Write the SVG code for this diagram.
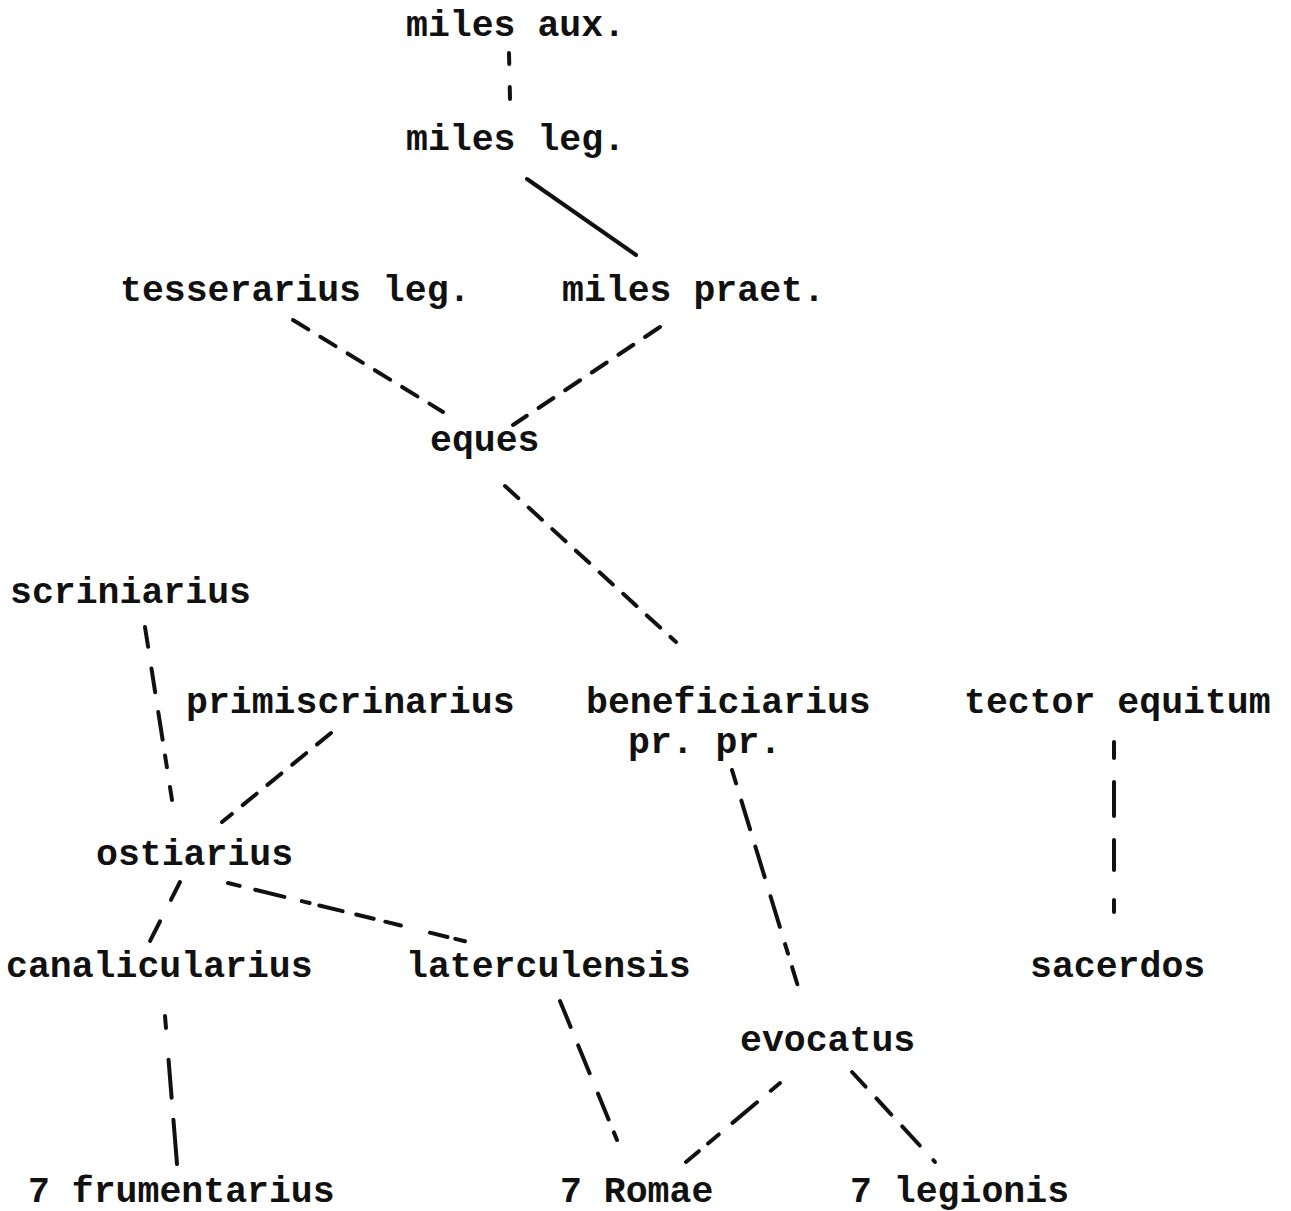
<svg xmlns="http://www.w3.org/2000/svg" width="1291" height="1211" viewBox="0 0 1291 1211">
<style>
  .t { font-family: "Liberation Mono", "Courier New", monospace; font-size: 36.5px; font-weight: bold; fill: #111; }
  .c { stroke: #111; stroke-width: 4; fill: none; stroke-linecap: round; }
  .d { stroke-dasharray: 18 14; }
</style>
<rect width="1291" height="1211" fill="#ffffff"/>
<g id="connectors">
  <line class="c" x1="509" y1="53" x2="510" y2="99" style="stroke-dasharray:11 23 14"/>
  <line class="c" x1="527" y1="179" x2="636" y2="255"/>
  <line class="c d" x1="293" y1="320" x2="443" y2="412"/>
  <line class="c d" x1="660" y1="327" x2="513" y2="425"/>
  <line class="c d" x1="505" y1="486" x2="676" y2="642"/>
  <line class="c d" x1="145" y1="627" x2="172" y2="800" style="stroke-dasharray:20 22 24 20 28 16 12"/>
  <line class="c d" x1="331" y1="733" x2="222" y2="822"/>
  <line class="c d" x1="732" y1="770" x2="800" y2="993" style="stroke-dasharray:14 18 30 18 32 20 32 18 10"/>
  <line class="c" x1="1114" y1="742" x2="1114" y2="924" style="stroke-dasharray:16 24 34 24 30 30 12"/>
  <line class="c d" x1="180" y1="882" x2="148" y2="945" style="stroke-dasharray:20 24 22"/>
  <line class="c d" x1="228" y1="883" x2="468" y2="942" style="stroke-dasharray:12 16 30 18 8 10 24 14 18"/>
  <line class="c" x1="165" y1="1016" x2="177" y2="1164" style="stroke-dasharray:12 32 38 22 46"/>
  <line class="c d" x1="560" y1="1001" x2="617" y2="1140" style="stroke-dasharray:28 20 30 22 28 14 20"/>
  <line class="c d" x1="780" y1="1083" x2="686" y2="1162" style="stroke-dasharray:12 18 32 18 14"/>
  <line class="c d" x1="852" y1="1072" x2="935" y2="1162" style="stroke-dasharray:20 16 22 16 26"/>
</g>
<g id="n-miles-aux"><text class="t" x="406" y="36">miles aux.</text></g>
<g id="n-miles-leg"><text class="t" x="406" y="150">miles leg.</text></g>
<g id="n-tesserarius"><text class="t" x="120" y="301">tesserarius leg.</text></g>
<g id="n-miles-praet"><text class="t" x="562" y="301">miles praet.</text></g>
<g id="n-eques"><text class="t" x="430" y="451">eques</text></g>
<g id="n-scriniarius"><text class="t" x="10" y="603">scriniarius</text></g>
<g id="n-primiscrinarius"><text class="t" x="186" y="713">primiscrinarius</text></g>
<g id="n-beneficiarius"><text class="t" x="586" y="713">beneficiarius</text><text class="t" x="628" y="753">pr. pr.</text></g>
<g id="n-tector"><text class="t" x="964" y="713">tector equitum</text></g>
<g id="n-ostiarius"><text class="t" x="96" y="865">ostiarius</text></g>
<g id="n-canalicularius"><text class="t" x="6" y="977">canalicularius</text></g>
<g id="n-laterculensis"><text class="t" x="406" y="977">laterculensis</text></g>
<g id="n-sacerdos"><text class="t" x="1030" y="977">sacerdos</text></g>
<g id="n-evocatus"><text class="t" x="740" y="1051">evocatus</text></g>
<g id="n-frumentarius"><text class="t" x="28" y="1202">7 frumentarius</text></g>
<g id="n-romae"><text class="t" x="560" y="1202">7 Romae</text></g>
<g id="n-legionis"><text class="t" x="850" y="1202">7 legionis</text></g>
</svg>
